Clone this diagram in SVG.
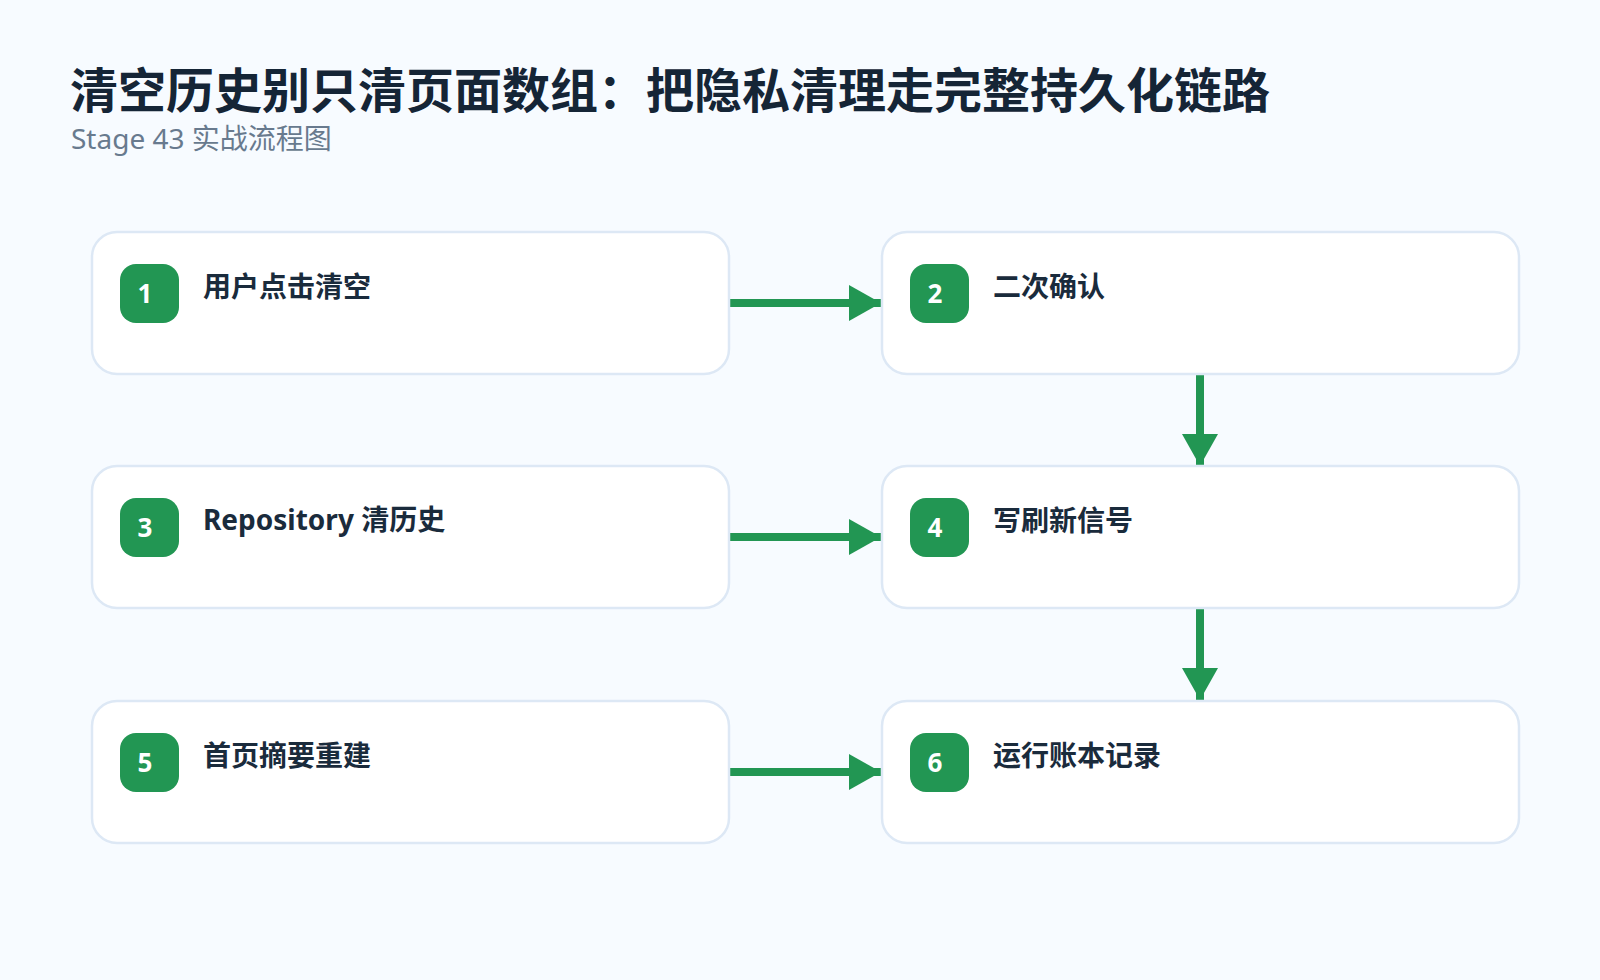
<svg xmlns="http://www.w3.org/2000/svg" width="1600" height="980" viewBox="0 0 1600 980">
<style>
.bg{fill:#f7fbff}
.title{font-family:"Noto Sans","Noto Sans CJK SC",sans-serif;font-weight:700;font-size:48px;fill:#152536}
.sub{font-family:"Noto Sans","Noto Sans CJK SC",sans-serif;font-size:28px;fill:#687a8e}
.box{fill:#ffffff;stroke:#dde8f5;stroke-width:2.5}
.badge{fill:#229653}
.num{font-family:"Noto Sans","Noto Sans CJK SC",sans-serif;font-weight:700;font-size:26px;fill:#ffffff;text-anchor:middle}
.lbl{font-family:"Noto Sans","Noto Sans CJK SC",sans-serif;font-weight:700;font-size:28px;fill:#1a2b3c}
.edge{stroke:#229653;stroke-width:8;fill:none}
</style>
<defs>
<marker id="ah" markerUnits="userSpaceOnUse" markerWidth="32" markerHeight="36" refX="32" refY="18" orient="auto">
<path d="M0,0 L32,18 L0,36 Z" fill="#229653"/>
</marker>
</defs>
<rect class="bg" x="0" y="0" width="1600" height="980"/>
<text class="title" x="70" y="108">清空历史别只清页面数组：把隐私清理走完整持久化链路</text>
<text class="sub" x="71" y="149">Stage 43 实战流程图</text>
<g id="connectors">
<line class="edge" x1="730" y1="303" x2="881" y2="303" marker-end="url(#ah)"/>
<line class="edge" x1="1200" y1="375" x2="1200" y2="466" marker-end="url(#ah)"/>
<line class="edge" x1="730" y1="537" x2="881" y2="537" marker-end="url(#ah)"/>
<line class="edge" x1="1200" y1="609" x2="1200" y2="700" marker-end="url(#ah)"/>
<line class="edge" x1="730" y1="772" x2="881" y2="772" marker-end="url(#ah)"/>
</g>
<g id="node1">
<rect class="box" x="92" y="232" width="637" height="142" rx="25"/>
<rect class="badge" x="120" y="264" width="59" height="59" rx="16"/>
<text class="num" x="145" y="302.5">1</text>
<text class="lbl" x="203" y="297">用户点击清空</text>
</g>
<g id="node2">
<rect class="box" x="882" y="232" width="637" height="142" rx="25"/>
<rect class="badge" x="910" y="264" width="59" height="59" rx="16"/>
<text class="num" x="935" y="302.5">2</text>
<text class="lbl" x="993" y="297">二次确认</text>
</g>
<g id="node3">
<rect class="box" x="92" y="466" width="637" height="142" rx="25"/>
<rect class="badge" x="120" y="498" width="59" height="59" rx="16"/>
<text class="num" x="145" y="536.5">3</text>
<text class="lbl" x="203" y="530">Repository 清历史</text>
</g>
<g id="node4">
<rect class="box" x="882" y="466" width="637" height="142" rx="25"/>
<rect class="badge" x="910" y="498" width="59" height="59" rx="16"/>
<text class="num" x="935" y="536.5">4</text>
<text class="lbl" x="993" y="531">写刷新信号</text>
</g>
<g id="node5">
<rect class="box" x="92" y="701" width="637" height="142" rx="25"/>
<rect class="badge" x="120" y="733" width="59" height="59" rx="16"/>
<text class="num" x="145" y="771.5">5</text>
<text class="lbl" x="203" y="766">首页摘要重建</text>
</g>
<g id="node6">
<rect class="box" x="882" y="701" width="637" height="142" rx="25"/>
<rect class="badge" x="910" y="733" width="59" height="59" rx="16"/>
<text class="num" x="935" y="771.5">6</text>
<text class="lbl" x="993" y="766">运行账本记录</text>
</g>
</svg>
